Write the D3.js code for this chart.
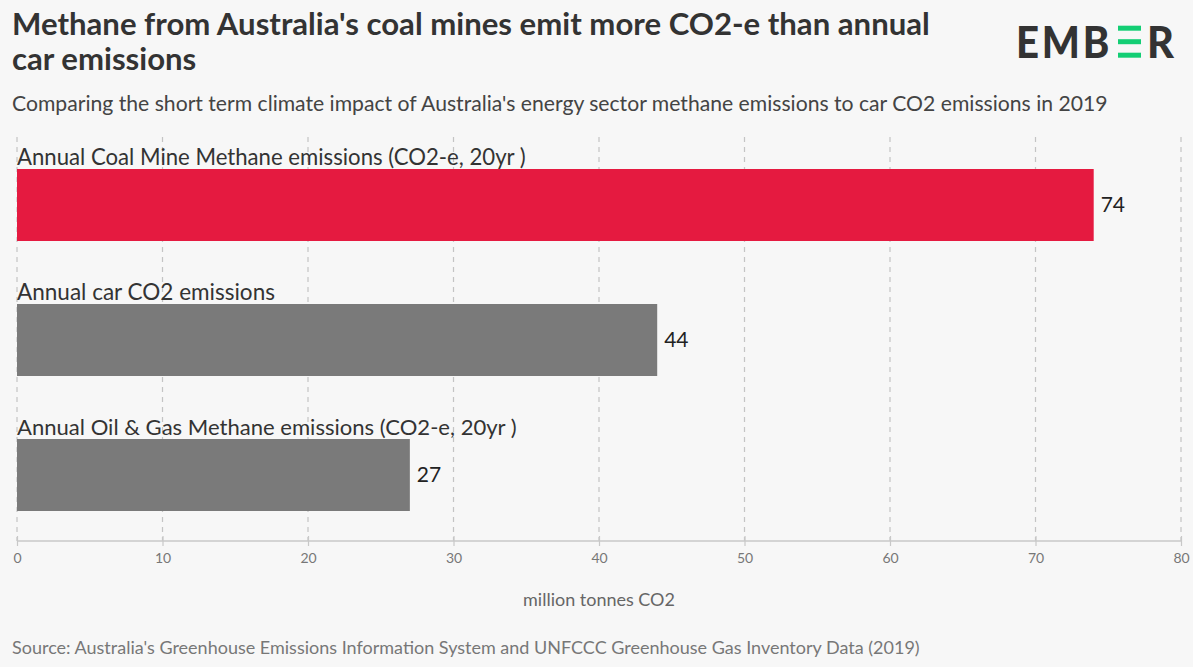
<!DOCTYPE html>
<html>
<head>
<meta charset="utf-8">
<script src="https://cdn.jsdelivr.net/npm/d3@7"></script>
<style>
  html, body { margin: 0; padding: 0; background: #f7f7f7; }
  svg { display: block; }
  text { font-family: "Source Sans Pro", Lato, "Noto Sans", sans-serif; }
</style>
</head>
<body>
<svg id="chart" width="1193" height="667"></svg>
<script>
const categories = [
  "Annual Coal Mine Methane emissions (CO2-e, 20yr )",
  "Annual car CO2 emissions",
  "Annual Oil & Gas Methane emissions (CO2-e, 20yr )"
];
const values = [74, 44, 27];
const barColors = ["#e51a40", "#7a7a7a", "#7a7a7a"];
const xTicks = [0, 10, 20, 30, 40, 50, 60, 70, 80];
const titleLines = [
  "Methane from Australia's coal mines emit more CO2-e than annual",
  "car emissions"
];
const subtitle = "Comparing the short term climate impact of Australia's energy sector methane emissions to car CO2 emissions in 2019";
const axisTitle = "million tonnes CO2";
const source = "Source: Australia's Greenhouse Emissions Information System and UNFCCC Greenhouse Gas Inventory Data (2019)";

const svg = d3.select("#chart");
svg.append("rect").attr("width", 1193).attr("height", 667).attr("fill", "#f7f7f7");

// fit font size so text spans a target width
function fit(sel, target, start) {
  sel.attr("font-size", start);
  const w = sel.node().getComputedTextLength();
  sel.attr("font-size", start * target / w);
  return sel;
}

// Title
const t1 = fit(svg.append("text").attr("x", 12).attr("y", 35)
  .attr("font-weight", 700).attr("fill", "#333").text(titleLines[0]), 918, 28);
svg.append("text").attr("x", 12).attr("y", 70)
  .attr("font-weight", 700).attr("fill", "#333")
  .attr("font-size", t1.attr("font-size")).text(titleLines[1]);

fit(svg.append("text").attr("x", 12).attr("y", 111).attr("fill", "#444").text(subtitle), 1096, 20);

// Logo
const logo = svg.append("g");
const dark = "#333";
logo.append("text").attr("x", 1016).attr("y", 57.7)
  .attr("font-family", "Lato, sans-serif").attr("font-weight", 900)
  .attr("font-size", 44).attr("fill", dark).attr("letter-spacing", 3).text("EMB")
  .attr("textLength", 96).attr("lengthAdjust", "spacingAndGlyphs");
[25.7, 39.2, 52.7].forEach(y => {
  logo.append("rect").attr("x", 1118).attr("y", y).attr("width", 23).attr("height", 5).attr("fill", "#13ce74");
});
logo.append("text").attr("x", 1147).attr("y", 57.7)
  .attr("font-family", "Lato, sans-serif").attr("font-weight", 900)
  .attr("font-size", 44).attr("fill", dark).text("R")
  .attr("textLength", 27).attr("lengthAdjust", "spacingAndGlyphs");

// Scales
const x = d3.scaleLinear().domain([0, 80]).range([17, 1181]);
const y = d3.scaleBand().domain(categories).range([169, 511]).paddingInner(0.4667).paddingOuter(0);

// Gridlines
svg.append("g").selectAll("line").data(xTicks).join("line")
  .attr("x1", d => x(d)).attr("x2", d => x(d))
  .attr("y1", 137).attr("y2", 541)
  .attr("stroke", "#c4c4c4").attr("stroke-width", 1.2).attr("stroke-dasharray", "5,5");

// Bars
svg.append("g").selectAll("rect").data(values).join("rect")
  .attr("x", x(0))
  .attr("y", (d, i) => y(categories[i]))
  .attr("width", d => x(d) - x(0))
  .attr("height", y.bandwidth())
  .attr("fill", (d, i) => barColors[i]);

// Category labels
const labelTargets = [509, 258, 500];
categories.forEach((c, i) => {
  fit(svg.append("text").attr("x", 17).attr("y", y(c) - 4).attr("fill", "#333").text(c), labelTargets[i], 22);
});

// Value labels
svg.append("g").selectAll("text").data(values).join("text")
  .attr("x", d => x(d) + 7)
  .attr("y", (d, i) => y(categories[i]) + y.bandwidth() / 2)
  .attr("dy", "0.35em")
  .attr("font-size", 21).attr("fill", "#222")
  .text(d => d);

// Axis
const axis = d3.axisBottom(x).tickValues(xTicks).tickSize(10).tickPadding(6).tickFormat(d3.format("d"));
const ax = svg.append("g").attr("transform", "translate(0,541)").call(axis);
ax.select(".domain").attr("stroke", "#c8c8c8").attr("stroke-width", 1.5).attr("d", `M${x(0)},0H${x(80)}`);
ax.selectAll(".tick line").attr("stroke", "#c8c8c8").attr("stroke-width", 1.2).attr("y1", -5).attr("y2", 5);
ax.selectAll(".tick text").attr("font-size", 14).attr("fill", "#777")
  .attr("font-family", "\"Source Sans Pro\", Lato, sans-serif").attr("y", 12).attr("dy", "0.71em");

fit(svg.append("text").attr("x", 599).attr("y", 606).attr("text-anchor", "middle").attr("fill", "#666").text(axisTitle), 152, 16);
fit(svg.append("text").attr("x", 12).attr("y", 654).attr("fill", "#777").text(source), 908, 17);
</script>
</body>
</html>
